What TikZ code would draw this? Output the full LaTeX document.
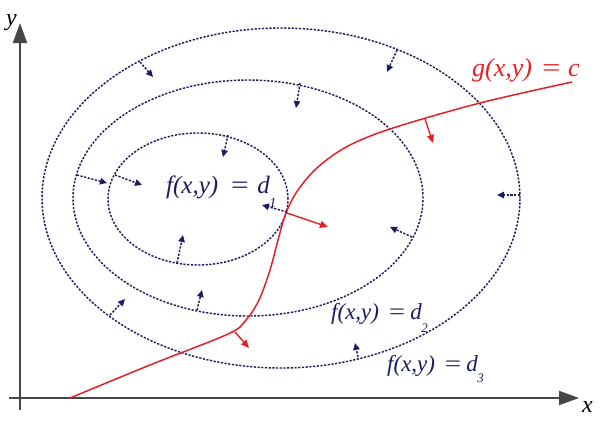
\documentclass[tikz,border=0pt]{standalone}
\usepackage{fontspec}
\usepackage{graphicx}
\setmainfont{Liberation Serif}
\usetikzlibrary{arrows.meta}
\definecolor{navy}{RGB}{28,28,96}
\definecolor{gred}{RGB}{228,32,36}
\definecolor{axisgray}{RGB}{70,70,70}
\newcommand{\lowsub}[3]{\kern-0.5pt\raisebox{-#2pt}{\fontsize{#3}{#3}\selectfont\itshape #1}}
\newcommand{\wideeq}[2]{\hspace{#1}\scalebox{1.25}[1]{=}\hspace{#2}}
\begin{document}
\begin{tikzpicture}[x=1pt,y=-1pt,
  level/.style={draw=navy,line width=1.45pt,dash pattern=on 2.2pt off 1.5pt},
  fgrad/.style={navy,line width=1.45pt,dash pattern=on 2.2pt off 1.5pt,-{Triangle[length=7pt,width=6.5pt]}},
  ggrad/.style={gred,line width=1.4pt,-{Triangle[length=8pt,width=7pt]}},
  axisline/.style={axisgray,line width=1.9pt,-{Triangle[length=20pt,width=14pt]}},
  lbl/.style={inner sep=0pt,anchor=base west}]
\useasboundingbox (0,0) rectangle (601,421);
% axes
\coordinate (xs) at (9,398);
\coordinate (xe) at (579,398);
\coordinate (ys) at (20,410);
\coordinate (ye) at (20,23);
\draw[axisline] (xs) -- (xe);
\draw[axisline] (ys) -- (ye);
\node[lbl,font=\fontsize{24}{24}\selectfont\itshape] (ylab) at (6,25) {y};
\node[lbl,font=\fontsize{24}{24}\selectfont\itshape] (xlab) at (582,412) {x};
% level sets
\draw[level] (281,198) ellipse [x radius=239pt, y radius=170pt];
\draw[level] (248,198) ellipse [x radius=175pt, y radius=118pt];
\draw[level] (198,199) ellipse [x radius=90pt, y radius=66pt];
% constraint curve
\draw[gred,line width=1.5pt] plot[smooth,tension=0.55] coordinates
  {(70,398) (150,365) (228,334) (246,320) (259,300) (270,270) (278,240) (286,213) (298,190) (318,167) (348,146) (393,128) (480,103) (572,82)};
% gradient arrows of f
\foreach \ax/\ay/\bx/\by [count=\i] in {
  140/62/153/77,
  397/50/387/72,
  520/195/497/195,
  358/357/355/343,
  110/315/125/299,
  77/175/107/183,
  300/83/296/108,
  115/175/142/185,
  197/310/202/290,
  412/237/390/227,
  228/135/223/157,
  177/263/183/235,
  287/212/262/205}{
  \coordinate (fs\i) at (\ax,\ay);
  \coordinate (fe\i) at (\bx,\by);
  \draw[fgrad] (fs\i) -- (fe\i);
}
% gradient arrows of g
\foreach \ax/\ay/\bx/\by [count=\i] in {
  425/119/433/143,
  287/213/328/227,
  235/332/249/348}{
  \coordinate (gs\i) at (\ax,\ay);
  \coordinate (ge\i) at (\bx,\by);
  \draw[ggrad] (gs\i) -- (ge\i);
}
% labels
\node[lbl,navy,font=\fontsize{25}{25}\selectfont\itshape] (d1) at (166,193) {f(x,y)\wideeq{11pt}{7pt}d\lowsub{1}{14}{14}};
\node[lbl,navy,font=\fontsize{23}{23}\selectfont\itshape] (d2) at (331,319) {f(x,y)\wideeq{8pt}{4pt}d\lowsub{2}{13}{13}};
\node[lbl,navy,font=\fontsize{23}{23}\selectfont\itshape] (d3) at (387,371) {f(x,y)\wideeq{8pt}{4pt}d\lowsub{3}{11}{13}};
\node[lbl,gred,font=\fontsize{26}{26}\selectfont\itshape] (gl) at (472,76) {g(x,y)\wideeq{8pt}{6pt}c};
\end{tikzpicture}
\end{document}
